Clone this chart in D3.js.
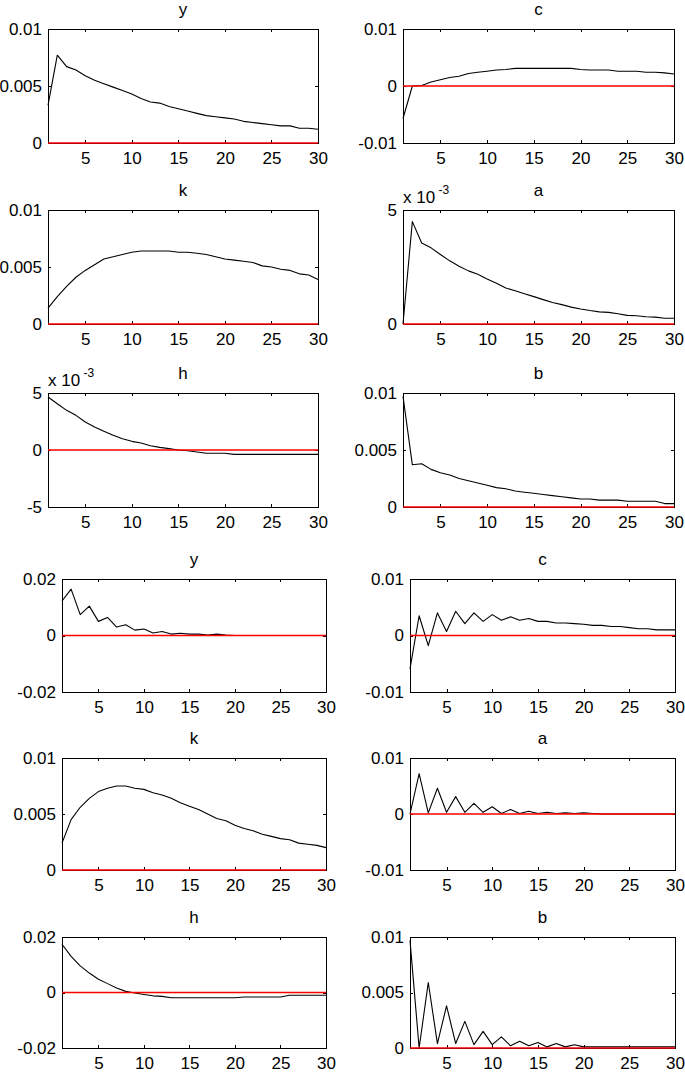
<!DOCTYPE html>
<html><head><meta charset="utf-8">
<script src="https://cdn.jsdelivr.net/npm/d3@7/dist/d3.min.js"></script>
<style>
body{margin:0;background:#fff}
svg{display:block}
text{font-family:"Liberation Sans",Arial,Helvetica,sans-serif;fill:#000}
</style>
</head><body>
<svg id="chart" width="685" height="1076"></svg>
<script>
// ---------- data ----------
const periods = [1,2,3,4,5,6,7,8,9,10,11,12,13,14,15,16,17,18,19,20,21,22,23,24,25,26,27,28,29,30];
const xTicks = [5,10,15,20,25,30];

// first block of panels
const topY = [0.0033,0.0077,0.0067,0.0064,0.0059,0.0055,0.0052,0.0049,0.0046,0.0043,0.0039,0.0036,0.0035,0.0032,0.0030,0.0028,0.0026,0.0024,0.0023,0.0022,0.0021,0.0019,0.0018,0.0017,0.0016,0.0015,0.0015,0.0013,0.0013,0.0012];
const topC = [-0.0057,0.0000,0.0001,0.0007,0.0011,0.0015,0.0017,0.0022,0.0024,0.0026,0.0028,0.0029,0.0031,0.0031,0.0031,0.0031,0.0031,0.0031,0.0031,0.0029,0.0028,0.0028,0.0028,0.0026,0.0026,0.0026,0.0024,0.0024,0.0023,0.0021];
const topK = [0.0014,0.0024,0.0033,0.0041,0.0047,0.0052,0.0057,0.0059,0.0061,0.0063,0.0064,0.0064,0.0064,0.0064,0.0063,0.0063,0.0062,0.0061,0.0059,0.0057,0.0056,0.0055,0.0054,0.0051,0.0050,0.0048,0.0047,0.0044,0.0043,0.0039];
const topA = [0.0000,0.00449,0.00355,0.00334,0.00305,0.00277,0.00253,0.00233,0.00218,0.00197,0.00179,0.00158,0.00146,0.00133,0.00120,0.00107,0.00094,0.00085,0.00074,0.00066,0.00059,0.00053,0.00051,0.00045,0.00038,0.00036,0.00032,0.00030,0.00025,0.00025];
const topH = [0.00465,0.00406,0.00348,0.00304,0.00246,0.00202,0.00164,0.00129,0.00099,0.00076,0.00061,0.00038,0.00023,0.00012,0.0000,-0.00006,-0.00018,-0.00029,-0.00029,-0.00029,-0.00038,-0.00038,-0.00038,-0.00038,-0.00038,-0.00038,-0.00038,-0.00038,-0.00038,-0.00038];
const topB = [0.0097,0.0037,0.0038,0.0033,0.0030,0.0028,0.0025,0.0023,0.0021,0.0019,0.0017,0.0016,0.0014,0.0013,0.0012,0.0011,0.0010,0.0009,0.0008,0.0007,0.0007,0.0006,0.0006,0.0006,0.0005,0.0005,0.0005,0.0005,0.0003,0.0003];

// second block of panels
const botY = [0.0122,0.0164,0.0074,0.0104,0.0050,0.0064,0.0030,0.0038,0.0019,0.0023,0.0009,0.0014,0.0005,0.0008,0.0005,0.0005,0.0002,0.0005,0.0002,0.0000,0.0000,0.0000,0.0000,0.0000,0.0000,0.0000,0.0000,0.0000,0.0000,0.0000];
const botC = [-0.0059,0.0035,-0.0018,0.0040,0.0007,0.0043,0.0021,0.0040,0.0025,0.0037,0.0027,0.0033,0.0027,0.0030,0.0025,0.0025,0.0022,0.0022,0.0021,0.0020,0.0018,0.0018,0.0016,0.0016,0.0014,0.0012,0.0012,0.0010,0.0010,0.0010];
const botK = [0.0024,0.0045,0.0056,0.0064,0.0070,0.0073,0.0075,0.0075,0.0073,0.0072,0.0069,0.0067,0.0064,0.0060,0.0057,0.0054,0.0050,0.0046,0.0044,0.0040,0.0037,0.0035,0.0032,0.0030,0.0028,0.0027,0.0024,0.0023,0.0022,0.0020];
const botA = [0.0000,0.0072,0.0002,0.0046,0.0003,0.0031,0.0003,0.0019,0.0003,0.0013,0.0001,0.0008,0.0001,0.0005,0.0001,0.0003,0.0001,0.0002,0.0001,0.0002,0.0001,0.0000,0.0000,0.0000,0.0000,0.0000,0.0000,0.0000,0.0000,0.0000];
const botH = [0.0174,0.0130,0.0096,0.0070,0.0048,0.0032,0.0016,0.0004,-0.0002,-0.0007,-0.0012,-0.0014,-0.0019,-0.0019,-0.0019,-0.0019,-0.0019,-0.0019,-0.0019,-0.0019,-0.0016,-0.0016,-0.0016,-0.0016,-0.0016,-0.0010,-0.0010,-0.0010,-0.0010,-0.0010];
const botB = [0.0097,0.0000,0.0059,0.0004,0.0038,0.0004,0.0024,0.0003,0.0015,0.0003,0.0010,0.0002,0.0006,0.0002,0.0005,0.0001,0.0004,0.0001,0.0003,0.0001,0.0001,0.0001,0.0001,0.0001,0.0001,0.0001,0.0001,0.0001,0.0001,0.0001];

const titles = ["y","c","k","a","h","b","y","c","k","a","h","b"];
const seriesList = [topY,topC,topK,topA,topH,topB,botY,botC,botK,botA,botH,botB];
const yDomains = [[0,0.01],[-0.01,0.01],[0,0.01],[0,0.005],[-0.005,0.005],[0,0.01],
                  [-0.02,0.02],[-0.01,0.01],[0,0.01],[-0.01,0.01],[-0.02,0.02],[0,0.01]];
const yTickLists = [[0,0.005,0.01],[-0.01,0,0.01],[0,0.005,0.01],[0,0.005],[-0.005,0,0.005],[0,0.005,0.01],
                    [-0.02,0,0.02],[-0.01,0,0.01],[0,0.005,0.01],[-0.01,0,0.01],[-0.02,0,0.02],[0,0.005,0.01]];
const yExponents = [0,0,0,-3,-3,0,0,0,0,0,0,0];

// ---------- layout ----------
const boxes = [
  {l:48,r:318,t:29,b:143},{l:403,r:674,t:29,b:143},
  {l:48,r:318,t:210,b:324},{l:403,r:674,t:210,b:324},
  {l:48,r:318,t:393,b:507},{l:403,r:674,t:393,b:507},
  {l:62,r:326,t:579,b:692},{l:410,r:675,t:579,b:692},
  {l:62,r:326,t:758,b:870},{l:410,r:675,t:758,b:870},
  {l:62,r:326,t:937,b:1048},{l:410,r:675,t:937,b:1048}
];
const FS = 17, TICK = 3;

const svg = d3.select("#chart");

titles.forEach((title,i)=>{
  const bx = boxes[i];
  const w = bx.r-bx.l, h = bx.b-bx.t;
  const g = svg.append("g").attr("transform",`translate(${bx.l},${bx.t})`);
  const x = d3.scaleLinear().domain([1,30]).range([0,w]);
  const y = d3.scaleLinear().domain(yDomains[i]).range([h,0]);
  const ex = yExponents[i];
  const fmt = d => String(+(d/Math.pow(10,ex)).toPrecision(6));

  // data line
  const vals = seriesList[i];
  const line = d3.line().x((d,j)=>x(periods[j])).y(d=>y(d));
  g.append("path").datum(vals).attr("d",line)
    .attr("fill","none").attr("stroke","#000").attr("stroke-width",1.1)
    .attr("stroke-linejoin","round");

  // axes (MATLAB-like: inner ticks on all four sides)
  const axL = g.append("g").call(d3.axisLeft(y).tickValues(yTickLists[i]).tickSize(-TICK).tickPadding(6).tickFormat(fmt));
  const axR = g.append("g").attr("transform",`translate(${w},0)`).call(d3.axisRight(y).tickValues(yTickLists[i]).tickSize(-TICK).tickFormat(""));
  const axB = g.append("g").attr("transform",`translate(0,${h})`).call(d3.axisBottom(x).tickValues(xTicks).tickSize(-TICK).tickPadding(9).tickFormat(d3.format("d")));
  const axT = g.append("g").call(d3.axisTop(x).tickValues(xTicks).tickSize(-TICK).tickFormat(""));
  [axL,axR,axB,axT].forEach(a=>{
    a.select(".domain").remove();
    a.selectAll("line").attr("stroke","#000").attr("shape-rendering","crispEdges");
    a.selectAll("text").style("font-size",FS+"px").style("font-family",'"Liberation Sans",Arial,sans-serif');
  });

  // frame
  g.append("rect").attr("x",0.5).attr("y",0.5).attr("width",w).attr("height",h)
    .attr("fill","none").attr("stroke","#000").attr("stroke-width",1).attr("shape-rendering","crispEdges");

  // zero reference line
  g.append("line").attr("x1",x(1)).attr("x2",x(30)).attr("y1",y(0)).attr("y2",y(0))
    .attr("stroke","#ff0000").attr("stroke-width",1.5);

  // title
  g.append("text").attr("x",w/2).attr("y",-14).attr("text-anchor","middle")
    .style("font-size",FS+"px").text(title);

  // exponent label
  if(ex!==0){
    const t = g.append("text").attr("x",0).attr("y",-7).style("font-size",FS+"px");
    t.append("tspan").text("x 10");
    t.append("tspan").attr("dy",-9).style("font-size","12px").text(" "+ex);
  }
});
</script>
</body></html>
